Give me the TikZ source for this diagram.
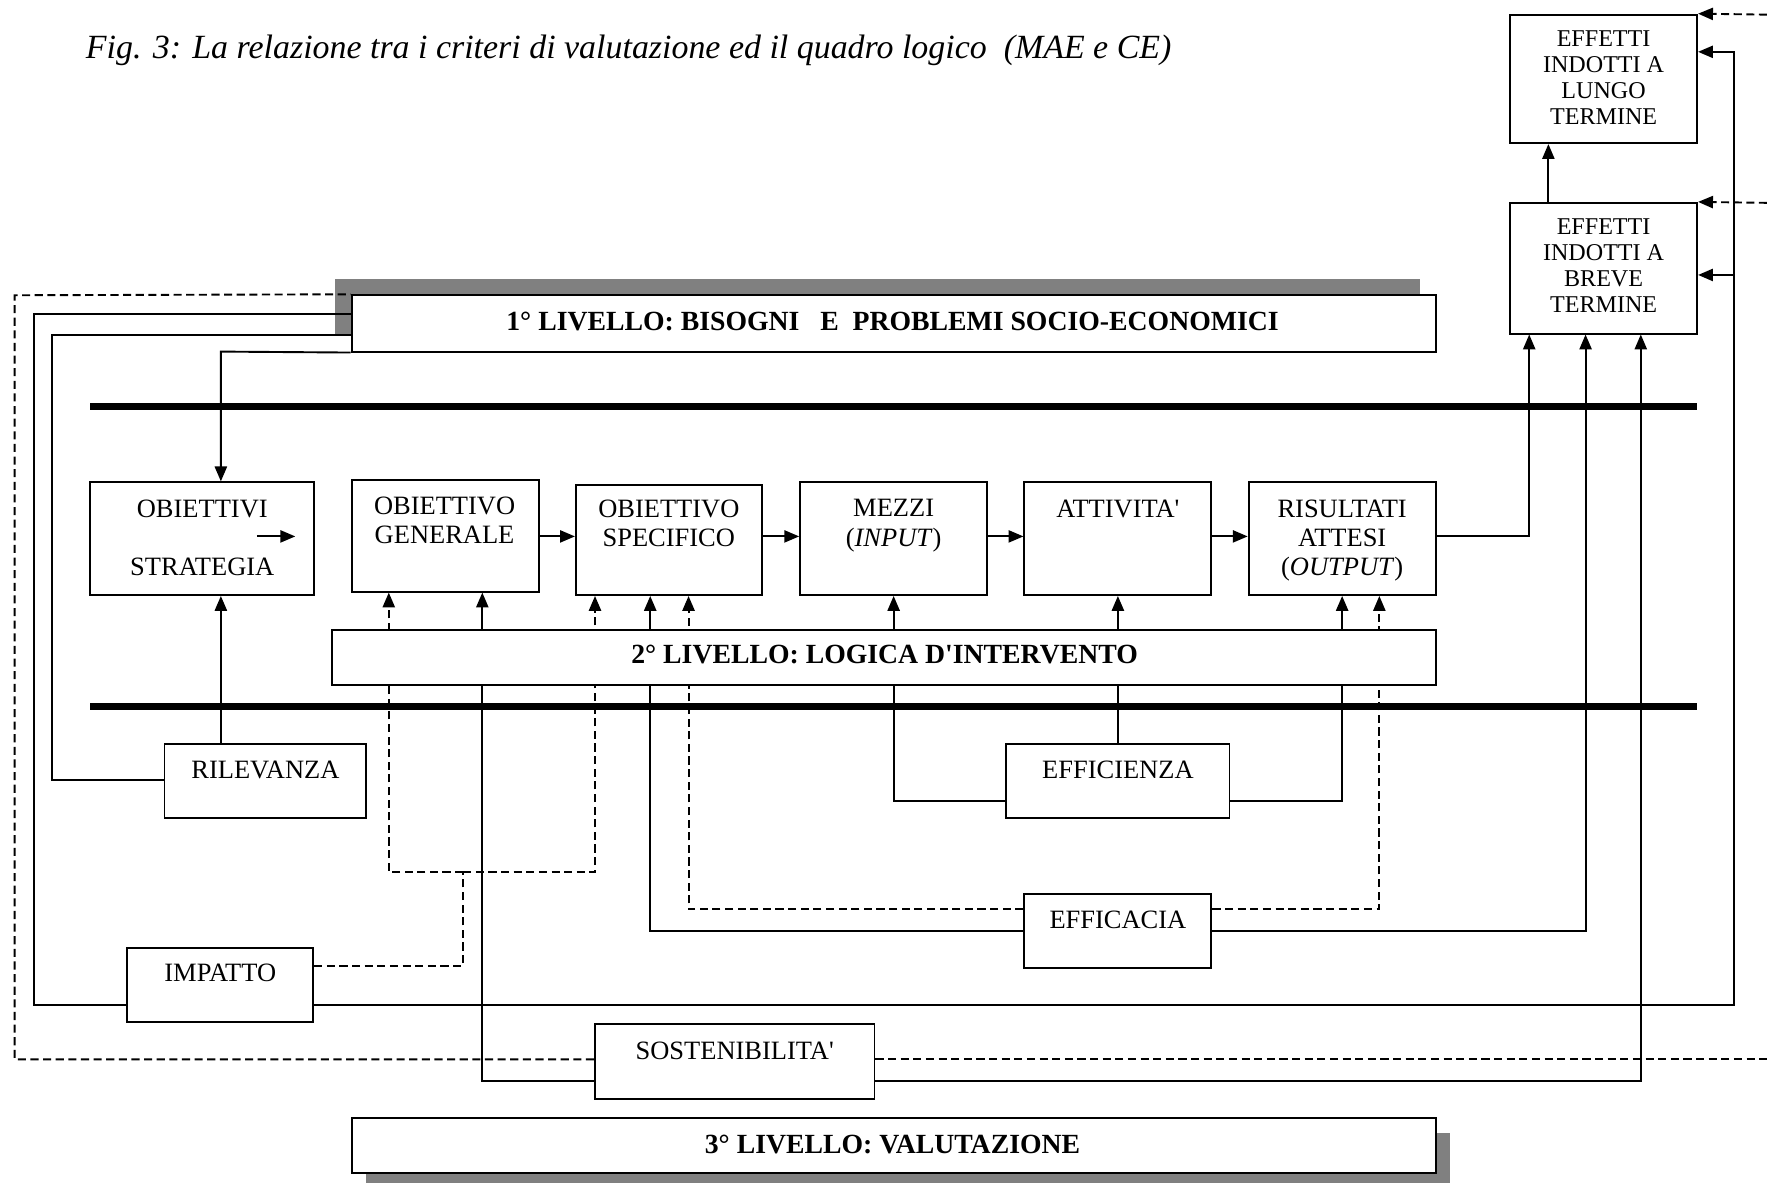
\documentclass[tikz,border=0pt]{standalone}
\usepackage{fontspec}
\setmainfont{Liberation Serif}[Ligatures=TeXOff]
\usetikzlibrary{arrows.meta,fit}
\pgfdeclarelayer{bg}
\pgfsetlayers{bg,main}
\begin{document}
\begin{tikzpicture}[x=0.025cm,y=-0.025cm,
  ln/.style={line width=1.2pt},
  dsh/.style={line width=1.2pt,dash pattern=on 0.18cm off 0.1cm},
  arr/.style={-{Triangle[length=0.33cm,width=0.27cm]}},
  bx/.style={draw,line width=1.2pt,fill=white,inner sep=0pt},
  shad/.style={fill=black!50,draw=none,inner sep=0pt},
  barline/.style={line width=0.16cm},
  txt/.style={font=\fontsize{16.7}{18.4}\selectfont,align=center,inner sep=0pt,anchor=north},
  etxt/.style={font=\fontsize{15.2}{16.3}\selectfont,align=center,inner sep=0pt,anchor=north},
  btxt/.style={font=\fontsize{17.5}{20}\selectfont\bfseries,inner sep=0pt,anchor=north},
]
\useasboundingbox (0,0) rectangle (1568,1050);

% title
\node[anchor=base west,inner sep=0pt,font=\fontsize{21.4}{25}\selectfont\itshape] (title) at (76,52)
  {Fig. 3: La relazione tra i criteri di valutazione ed il quadro logico\ \ (MAE e CE)};

% boxes
\node[bx,fit={(1340,13)(1506,127)}] (lungo) {};
\node[bx,fit={(1340,180)(1506,296)}] (breve) {};
\node[bx,fit={(312,262)(1274,312)}] (L1) {};
\node[bx,fit={(80,428)(279,528)}] (obs) {};
\node[bx,fit={(312,426)(478,525)}] (gen) {};
\node[bx,fit={(511,430)(676,528)}] (spec) {};
\node[bx,fit={(710,428)(876,528)}] (mez) {};
\node[bx,fit={(909,428)(1075,528)}] (att) {};
\node[bx,fit={(1108,428)(1274,528)}] (ris) {};
\node[bx,fit={(295,559)(1274,608)}] (L2) {};
\node[bx,fit={(146,660)(325,726)}] (ril) {};
\node[bx,fit={(893,660)(1091,726)}] (effi) {};
\node[bx,fit={(909,793)(1075,859)}] (effc) {};
\node[bx,fit={(113,841)(278,907)}] (imp) {};
\node[bx,fit={(528,909)(776,975)}] (sost) {};
\node[bx,fit={(312,992)(1274,1041)}] (L3) {};

% texts
\node[etxt] (lungo-t) at (1423,27) {EFFETTI\\INDOTTI A\\LUNGO\\TERMINE};
\node[etxt] (breve-t) at (1423,194) {EFFETTI\\INDOTTI A\\BREVE\\TERMINE};
\node[btxt] (L1-t) at (792,277) {1° LIVELLO: BISOGNI\ \ \ E\ \ PROBLEMI SOCIO-ECONOMICI};
\node[txt] (obs-t1) at (179.5,443) {OBIETTIVI};
\node[txt] (obs-t2) at (179.5,495) {STRATEGIA};
\node[txt] (gen-t) at (394.5,441) {OBIETTIVO\\GENERALE};
\node[txt] (spec-t) at (593.5,443) {OBIETTIVO\\SPECIFICO};
\node[txt] (mez-t) at (793,443) {MEZZI\\(\textit{INPUT})};
\node[txt] (att-t) at (992,443) {ATTIVITA'};
\node[txt] (ris-t) at (1191,443) {RISULTATI\\ATTESI\\(\textit{OUTPUT})};
\node[btxt] (L2-t) at (785,572) {2° LIVELLO: LOGICA D'INTERVENTO};
\node[txt] (ril-t) at (235.5,675) {RILEVANZA};
\node[txt] (effi-t) at (992,675) {EFFICIENZA};
\node[txt] (effc-t) at (992,808) {EFFICACIA};
\node[txt] (imp-t) at (195.5,855) {IMPATTO};
\node[txt] (sost-t) at (652,924) {SOSTENIBILITA'};
\node[btxt] (L3-t) at (792,1007) {3° LIVELLO: VALUTAZIONE};

% small arrow inside OBIETTIVI box
\coordinate (oa1) at (228,476);
\coordinate (oa2) at (262,476);
\draw[ln,arr] (oa1) -- (oa2);

% junction coordinates
\coordinate (rowy) at (0,476);
\coordinate (cA) at (30,279);
\coordinate (cB) at (30,892);
\coordinate (cC) at (1539,892);
\coordinate (cD) at (1539,46);
\coordinate (cE) at (1539,244);
\coordinate (rA) at (46,297);
\coordinate (rB) at (46,692);
\coordinate (cF) at (196,312);
\coordinate (cG) at (1357,476);
\coordinate (g1) at (1374,0);
\coordinate (d1) at (411,857);
\coordinate (d2) at (411,774);
\coordinate (d3) at (345,774);
\coordinate (d4) at (528,774);
\coordinate (s1) at (428,959);
\coordinate (s2) at (1456,959);
\coordinate (t1) at (13,940);
\coordinate (t2) at (13,262);
\coordinate (t3) at (1568,940);
\coordinate (t4) at (1568,13);
\coordinate (t5) at (1568,180);
\coordinate (e1) at (577,826);
\coordinate (e2) at (1407,826);
\coordinate (e3) at (611,807);
\coordinate (e4) at (1224,807);
\coordinate (f1) at (793,711);
\coordinate (f2) at (1191,711);
\coordinate (b1a) at (80,361);
\coordinate (b1b) at (1506,361);
\coordinate (b2a) at (80,627);
\coordinate (b2b) at (1506,627);

\begin{pgfonlayer}{bg}
\node[shad,fit={(297,248)(1260,297)}] (sh1) {};
\node[shad,fit={(325,1005)(1287,1050)}] (sh3) {};
\draw[barline] (b1a) -- (b1b);
\draw[barline] (b2a) -- (b2b);

% IMPATTO solid network
\draw[ln] (L1.west |- cA) -- (cA) -- (cB) -- (imp.west |- cB);
\draw[ln,arr] (imp.east |- cB) -- (cC) -- (cD) -- (lungo.east |- cD);
\draw[ln,arr] (cE) -- (breve.east |- cE);
% IMPATTO dashed network
\draw[dsh] (imp.east |- d1) -- (d1) -- (d2);
\draw[dsh,arr] (d2) -- (d3) -- (d3 |- gen.south);
\draw[dsh,arr] (d2) -- (d4) -- (d4 |- spec.south);

% RILEVANZA
\draw[ln] (L1.west |- rA) -- (rA) -- (rB) -- (ril.west |- rB);
\draw[ln,arr] (L1.south west) -- (cF) -- (cF |- obs.north);
\draw[ln,arr] (ril.north -| cF) -- (cF |- obs.south);

% logic chain
\draw[ln,arr] (gen.east |- rowy) -- (spec.west |- rowy);
\draw[ln,arr] (spec.east |- rowy) -- (mez.west |- rowy);
\draw[ln,arr] (mez.east |- rowy) -- (att.west |- rowy);
\draw[ln,arr] (att.east |- rowy) -- (ris.west |- rowy);
\draw[ln,arr] (ris.east |- rowy) -- (cG) -- (cG |- breve.south);
\draw[ln,arr] (breve.north -| g1) -- (lungo.south -| g1);

% SOSTENIBILITA
\draw[ln,arr] (sost.west |- s1) -- (s1) -- (s1 |- gen.south);
\draw[ln,arr] (sost.east |- s2) -- (s2) -- (s2 |- breve.south);
\draw[dsh] (sost.west |- t1) -- (t1) -- (t2) -- (L1.north west);
\draw[dsh] (sost.east |- t1) -- (t3);
\draw[dsh,arr] (t4) -- (lungo.north east);
\draw[dsh,arr] (t5) -- (breve.north east);

% EFFICACIA
\draw[ln,arr] (effc.west |- e1) -- (e1) -- (e1 |- spec.south);
\draw[ln,arr] (effc.east |- e2) -- (e2) -- (e2 |- breve.south);
\draw[dsh,arr] (effc.west |- e3) -- (e3) -- (e3 |- spec.south);
\draw[dsh,arr] (effc.east |- e4) -- (e4) -- (e4 |- ris.south);

% EFFICIENZA
\draw[ln,arr] (effi.west |- f1) -- (f1) -- (f1 |- mez.south);
\draw[ln,arr] (effi.east |- f2) -- (f2) -- (f2 |- ris.south);
\draw[ln,arr] (effi.north) -- (effi.north |- att.south);
\end{pgfonlayer}
\end{tikzpicture}
\end{document}
